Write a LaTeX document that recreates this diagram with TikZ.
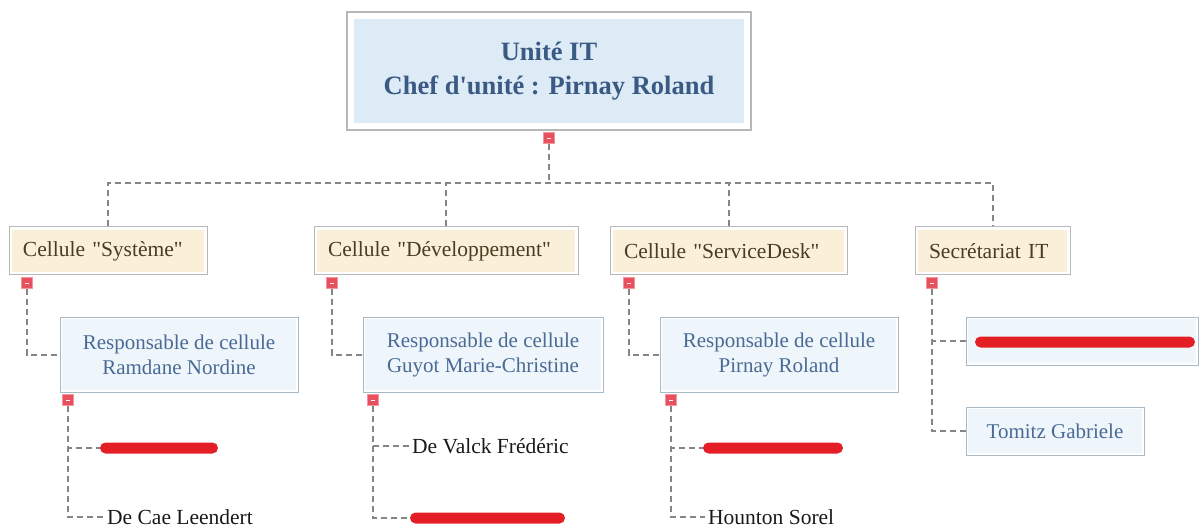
\documentclass[tikz,border=0pt]{standalone}
\usepackage{fontspec}
\setmainfont{Liberation Serif}[Ligatures=TeXOff]
\usetikzlibrary{calc}

\definecolor{headfill}{HTML}{DDEBF7}
\definecolor{headtext}{HTML}{3A5A84}
\definecolor{boxgray}{HTML}{B8B8B8}
\definecolor{cellfill}{HTML}{FAF0DA}
\definecolor{celltext}{HTML}{4A3C20}
\definecolor{respfill}{HTML}{EEF6FB}
\definecolor{respborder}{HTML}{AAB9C6}
\definecolor{resptext}{HTML}{4A6A95}
\definecolor{linegray}{HTML}{858585}
\definecolor{togglered}{HTML}{E8505E}
\definecolor{redactred}{HTML}{E31E24}

\tikzset{
  insetfill/.style 2 args={path picture={
      \fill[#1] ($(path picture bounding box.north west)+(#2,-#2)$)
        rectangle ($(path picture bounding box.south east)+(-#2,#2)$);}},
  headbox/.style={draw=boxgray, line width=1.2pt, fill=white, insetfill={headfill}{7pt},
      inner sep=0pt, align=center, text=headtext,
      font=\fontsize{26.5}{34}\selectfont\bfseries},
  cellbox/.style={draw=boxgray, line width=1pt, fill=white, insetfill={cellfill}{3pt},
      inner ysep=0pt, inner xsep=14pt, align=left, minimum height=48pt, text=celltext,
      font=\fontsize{21.5}{25}\selectfont},
  respbox/.style={draw=respborder, line width=1pt, fill=white, insetfill={respfill}{2pt},
      inner sep=0pt, align=center, text=resptext,
      font=\fontsize{21}{25}\selectfont},
  leaf/.style={inner ysep=0pt, inner xsep=3pt, anchor=base west, text=black!90,
      font=\fontsize{21.5}{25}\selectfont},
  redact/.style={fill=redactred, rounded corners=5.5pt, minimum height=11pt, inner sep=0pt},
  toggle/.style={fill=togglered, draw=togglered!60!white, line width=0.6pt,
      minimum size=11pt, inner sep=0pt,
      path picture={\draw[white, line width=0.9pt]
        ($(path picture bounding box.center)+(-2pt,0)$) -- +(4pt,0);}},
  conn/.style={draw=linegray, line width=2pt, dash pattern=on 6pt off 4pt}
}

\begin{document}
\begin{tikzpicture}[x=1pt, y=-1pt]
\useasboundingbox (0,0) rectangle (1204,529);

% head of the unit
\node[headbox, minimum width=404pt, minimum height=118pt] (unit) at (549,71)
  {Unité IT\\Chef d'unité : Pirnay Roland};
\node[toggle] (tunit) at (549,138) {};
\coordinate (bus) at (549,183);

% cells
\node[cellbox, text width=170pt] (sys) at (108,251) {Cellule "Système"};
\node[cellbox, text width=236pt] (dev) at (446,251) {Cellule "Développement"};
\node[cellbox, text width=209pt] (sd)  at (728.5,251) {Cellule "ServiceDesk"};
\node[cellbox, text width=127pt] (sec) at (992.5,251) {Secrétariat IT};

\node[toggle] (tsys) at (27,283) {};
\node[toggle] (tdev) at (332,283) {};
\node[toggle] (tsd)  at (629,283) {};
\node[toggle] (tsec) at (932,283) {};

% cell managers
\node[respbox, minimum width=238pt, minimum height=75pt] (rsys) at (179,354.5)
  {Responsable de cellule\\Ramdane Nordine};
\node[respbox, minimum width=240pt, minimum height=75pt] (rdev) at (483,354.5)
  {Responsable de cellule\\Guyot Marie-Christine};
\node[respbox, minimum width=238pt, minimum height=75pt] (rsd) at (779,354.5)
  {Responsable de cellule\\Pirnay Roland};

\node[toggle] (trsys) at (68,400) {};
\node[toggle] (trdev) at (373,400) {};
\node[toggle] (trsd)  at (671,400) {};

% secretariat staff
\node[respbox, minimum width=232pt, minimum height=48pt] (seca) at (1082,341) {};
\node[redact, minimum width=220pt] at (1085,342) {};
\node[respbox, minimum width=178pt, minimum height=48pt] (secb) at (1055,431)
  {Tomitz Gabriele};

% members
\node[redact, minimum width=118pt] (sys1) at (159,448) {};
\node[leaf] (sys2) at (104,524) {De Cae Leendert};
\node[leaf] (dev1) at (409,453) {De Valck Frédéric};
\node[redact, minimum width=155pt] (dev2) at (487.5,518) {};
\node[redact, minimum width=140pt] (sd1) at (773,448) {};
\node[leaf] (sd2) at (705,524) {Hounton Sorel};

% connectors
\draw[conn] (tunit.south) -- (bus);
\draw[conn] (sys.north) |- (bus) -| (sec.north);
\draw[conn] (dev.north) -- (dev.north |- bus);
\draw[conn] (sd.north) -- (sd.north |- bus);

\draw[conn] (tsys.south) |- (rsys.west);
\draw[conn] (tdev.south) |- (rdev.west);
\draw[conn] (tsd.south) |- (rsd.west);
\draw[conn] (tsec.south) |- (seca.west);
\draw[conn] (tsec.south) |- (secb.west);

\draw[conn] (trsys.south) |- (sys1.west);
\draw[conn] (trsys.south) |- (sys2.west);
\draw[conn] (trdev.south) |- (dev1.west);
\draw[conn] (trdev.south) |- (dev2.west);
\draw[conn] (trsd.south) |- (sd1.west);
\draw[conn] (trsd.south) |- (sd2.west);
\end{tikzpicture}
\end{document}
